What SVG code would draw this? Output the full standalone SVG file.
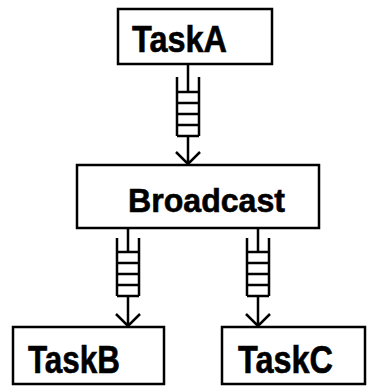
<svg xmlns="http://www.w3.org/2000/svg" width="367" height="387" viewBox="0 0 367 387">
<style>
.box{fill:#fff;stroke:#000;stroke-width:2.5}
.lbl{font-family:"Liberation Sans",Arial,sans-serif;font-weight:bold;fill:#000;stroke:#000;stroke-width:0.6}
.ln{fill:none;stroke:#000;stroke-width:2.5}
</style>
<rect width="367" height="387" fill="#fff"/>
<g id="connectors">
  <g id="q1">
    <path class="ln" d="M188 64 V92 M177 77 V136 M199 77 V136 M177 92 H199 M177 103 H199 M177 114 H199 M177 125 H199 M177 136 H199 M188 136 V164 M176 152 L188 164 L200 152"/>
  </g>
  <g id="q2">
    <path class="ln" d="M128 228 V252 M117 238 V296 M139 238 V296 M117 252 H139 M117 263 H139 M117 274 H139 M117 285 H139 M117 296 H139 M128 296 V326 M116 314 L128 326 L140 314"/>
  </g>
  <g id="q3">
    <path class="ln" d="M258 228 V252 M247 238 V296 M269 238 V296 M247 252 H269 M247 263 H269 M247 274 H269 M247 285 H269 M247 296 H269 M258 296 V326 M246 314 L258 326 L270 314"/>
  </g>
</g>
<g id="taskA">
  <rect class="box" x="118" y="9" width="154" height="55"/>
  <text class="lbl" x="132" y="52" font-size="36" textLength="95" lengthAdjust="spacingAndGlyphs">TaskA</text>
</g>
<g id="broadcast">
  <rect class="box" x="77" y="165" width="242" height="63"/>
  <text class="lbl" x="128" y="212" font-size="34" textLength="157" lengthAdjust="spacingAndGlyphs">Broadcast</text>
</g>
<g id="taskB">
  <rect class="box" x="13" y="327" width="151" height="57"/>
  <text class="lbl" x="28" y="373" font-size="38" textLength="92" lengthAdjust="spacingAndGlyphs">TaskB</text>
</g>
<g id="taskC">
  <rect class="box" x="222" y="327" width="143" height="57"/>
  <text class="lbl" x="238" y="373" font-size="38" textLength="95" lengthAdjust="spacingAndGlyphs">TaskC</text>
</g>
</svg>
